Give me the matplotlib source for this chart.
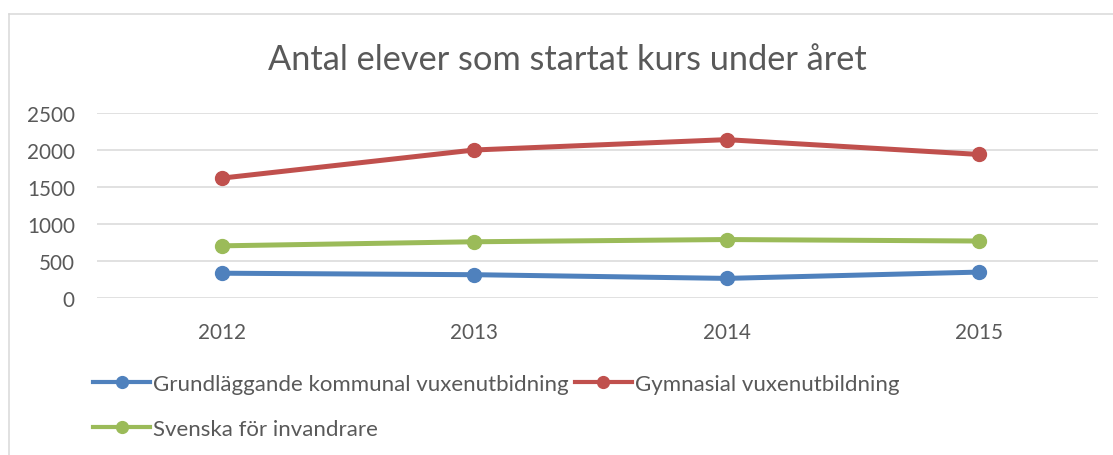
import matplotlib
matplotlib.use("Agg")
import matplotlib.pyplot as plt
from matplotlib.lines import Line2D
import numpy as np

# ---- data ----
years = ["2012", "2013", "2014", "2015"]
grundlaggande = [335, 315, 265, 350]
gymnasial = [1620, 2000, 2140, 1940]
sfi = [705, 760, 790, 770]
series_names = ["Grundläggande kommunal vuxenutbidning",
                "Gymnasial vuxenutbildning",
                "Svenska för invandrare"]
title = "Antal elever som startat kurs under året"
yticks = [0, 500, 1000, 1500, 2000, 2500]

# ---- style ----
W, H, DPI = 1113, 456, 100
FAM = ["Lato", "DejaVu Sans"]
TXT = "#595959"
GRID = "#D9D9D9"
colors = ["#4F81BD", "#C0504D", "#9BBB59"]

plt.rcParams["font.family"] = FAM
fig = plt.figure(figsize=(W / DPI, H / DPI), dpi=DPI)
renderer = fig.canvas.get_renderer()


def fit_size(text, target_px, **kw):
    t = fig.text(0, 0, text, fontsize=10, **kw)
    w = t.get_window_extent(renderer).width
    t.remove()
    return 10 * target_px / w


tick_fs = fit_size("2500", 48)
title_fs = fit_size(title, 600)
leg_fs = fit_size(series_names[1], 263)

# chart border (top + left visible)
fig.add_artist(Line2D([9 / W, 9 / W], [0, 1 - 15 / H], color=GRID, lw=1.1,
                      transform=fig.transFigure))
fig.add_artist(Line2D([9 / W, 1], [1 - 15 / H, 1 - 15 / H], color=GRID, lw=1.1,
                      transform=fig.transFigure))

ax = fig.add_axes([97 / W, 1 - 299 / H, (1098 - 97) / W, (299 - 114) / H])
x = np.arange(len(years))
data = [grundlaggande, gymnasial, sfi]
for vals, c, name in zip(data, colors, series_names):
    ax.plot(x, vals, color=c, lw=3.6, marker="o", ms=10, label=name,
            solid_capstyle="round", zorder=3)

ax.set_xlim(-0.495, 3.472)
ax.set_ylim(0, 2500)
ax.set_yticks(yticks)
ax.set_xticks(x)
ax.set_xticklabels(years)
ax.yaxis.grid(True, color=GRID, lw=1.1)
ax.set_axisbelow(True)
for s in ax.spines.values():
    s.set_visible(False)
ax.tick_params(axis="both", length=0, labelsize=tick_fs, labelcolor=TXT)
ax.tick_params(axis="y", pad=16)
ax.tick_params(axis="x", pad=17)

fig.text(567 / W, 1 - 60 / H, title, ha="center", va="center",
         fontsize=title_fs, color=TXT)

# legend
fs_px = leg_fs * DPI / 72
proxies = [Line2D([], [], color=c, lw=3.0, marker="o", ms=8.5) for c in colors]
common = dict(frameon=False, fontsize=leg_fs, labelcolor=TXT,
              handlelength=57 / fs_px, handletextpad=3 / fs_px,
              columnspacing=6 / fs_px, borderpad=0, borderaxespad=0,
              loc="center left")
fig.legend(proxies[:2], series_names[:2], ncol=2,
           bbox_to_anchor=(93 / W, 1 - 385 / H), **common)
fig.legend(proxies[2:], series_names[2:], ncol=1,
           bbox_to_anchor=(93 / W, 1 - 430 / H), **common)

fig.savefig("out.png", dpi=DPI)
